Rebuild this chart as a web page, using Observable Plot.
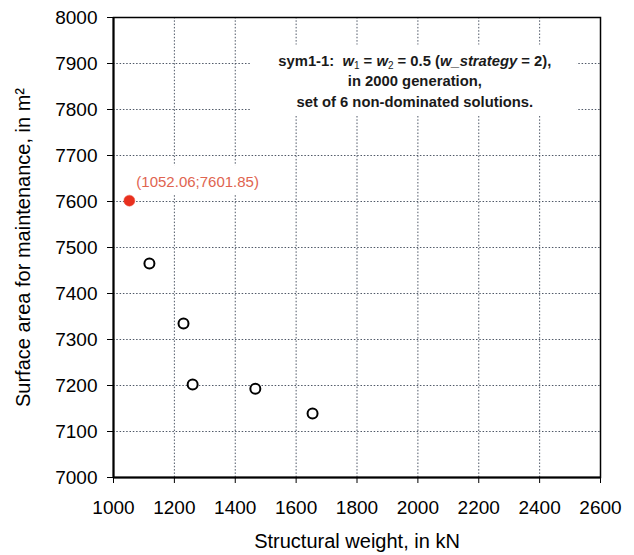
<!DOCTYPE html>
<html>
<head>
<meta charset="utf-8">
<script src="https://cdn.jsdelivr.net/npm/d3@7"></script>
<script src="https://cdn.jsdelivr.net/npm/@observablehq/plot@0.6"></script>
<style>
  html, body { margin: 0; padding: 0; background: white; }
</style>
</head>
<body>
<div id="chart"></div>
<script>
// Data
const xTicks = [1000, 1200, 1400, 1600, 1800, 2000, 2200, 2400, 2600];
const yTicks = [7000, 7100, 7200, 7300, 7400, 7500, 7600, 7700, 7800, 7900, 8000];
const weights = [1118, 1230, 1260, 1466, 1654];
const areas   = [7465, 7335, 7202, 7193, 7139];
const bestX = [1052.06];
const bestY = [7601.85];
const noteLines = [
  "sym1-1:  w1 = w2 = 0.5 (w_strategy = 2),",
  "in 2000 generation,",
  "set of 6 non-dominated solutions."
];
const noteY = [7905, 7862, 7816];
const noteX = 1990;
const noteBox = [{x1: 1450, x2: 2524, y1: 7787, y2: 7940}];
const labelBox = [{x1: 1062, x2: 1489, y1: 7613, y2: 7678}];

const solutions = weights.map((w, i) => ({x: w, y: areas[i]}));
const best = bestX.map((w, i) => ({x: w, y: bestY[i]}));
const notes = noteLines.map((t, i) => ({text: t, y: noteY[i], x: noteX}));

const gridStyle = {stroke: "#3c4656", strokeOpacity: 0.9, strokeWidth: 1, strokeDasharray: "1.5,1.8"};

const chart = Plot.plot({
  width: 634,
  height: 555,
  marginLeft: 113,
  marginRight: 34,
  marginTop: 17,
  marginBottom: 78,
  style: {fontFamily: "'Liberation Sans', Arial, sans-serif", fontSize: "19px", background: "white", color: "black"},
  x: {domain: [1000, 2600]},
  y: {domain: [7000, 8000]},
  marks: [
    Plot.gridX(xTicks.slice(1, -1), gridStyle),
    Plot.gridY(yTicks.slice(1, -1), gridStyle),
    Plot.rect(noteBox, {x1: "x1", x2: "x2", y1: "y1", y2: "y2", fill: "white"}),
    Plot.rect(labelBox, {x1: "x1", x2: "x2", y1: "y1", y2: "y2", fill: "white"}),
    Plot.frame({stroke: "black", strokeWidth: 1.5}),
    Plot.ruleX([1000], {stroke: "black", strokeWidth: 2}),
    Plot.ruleY([7000], {stroke: "black", strokeWidth: 2}),
    Plot.axisX({ticks: xTicks, tickSize: 6, tickPadding: 17, fontSize: 19, tickFormat: d => String(d),
      label: "Structural weight, in kN", labelAnchor: "center", labelOffset: 70, labelArrow: "none"}),
    Plot.axisY({ticks: yTicks, tickSize: 6, tickPadding: 10, fontSize: 19, tickFormat: d => String(d),
      label: "Surface area for maintenance, in m²", labelAnchor: "center", labelOffset: 98, labelArrow: "none"}),
    Plot.dot(solutions, {x: "x", y: "y", r: 5, stroke: "black", strokeWidth: 2, fill: "white"}),
    Plot.dot(best, {x: "x", y: "y", r: 5.5, fill: "#e8301e", stroke: "#f05040", strokeWidth: 0.5}),
    Plot.text(best, {x: "x", y: "y", text: d => `(${d.x.toFixed(2)};${d.y.toFixed(2)})`, dx: 7, dy: -18,
      textAnchor: "start", fill: "#e06450", fontSize: 15}),
    Plot.text(notes, {x: "x", y: "y", text: "text", fontSize: 14.8, fontWeight: "bold", fill: "#1a1a1a"})
  ]
});

document.getElementById("chart").appendChild(chart);

const svg = d3.select(chart);
// Axis titles are larger than tick labels
svg.selectAll('[aria-label="x-axis label"], [aria-label="y-axis label"]').attr("font-size", 20)
  .selectAll("text").attr("font-size", 20);

// Rich formatting of the first annotation line (italics and subscripts)
svg.selectAll("text").filter(function() { return this.textContent === noteLines[0]; }).each(function() {
  const t = d3.select(this);
  const parts = [
    {s: "sym1-1:  "},
    {s: "w", it: true},
    {s: "1", sub: true},
    {s: " = "},
    {s: "w", it: true},
    {s: "2", sub: true},
    {s: " = 0.5 ("},
    {s: "w_strategy", it: true},
    {s: " = 2),"}
  ];
  t.text(null);
  for (const p of parts) {
    const s = t.append("tspan").text(p.s);
    if (p.it) s.attr("font-style", "italic");
    if (p.sub) s.attr("font-size", "10").attr("baseline-shift", "-25%").attr("font-weight", "normal");
  }
});
</script>
</body>
</html>
